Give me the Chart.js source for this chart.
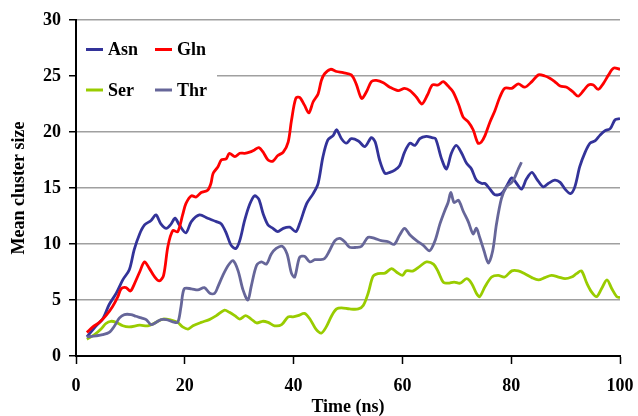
<!DOCTYPE html>
<html>
<head>
<meta charset="utf-8">
<script src="https://cdn.jsdelivr.net/npm/chart.js@4.4.1/dist/chart.umd.min.js"></script>
<style>
  html, body { margin: 0; padding: 0; background: #fff; }
  canvas { display: block; }
</style>
</head>
<body>
<canvas id="clusterChart" width="638" height="416"></canvas>
<script>
// series (time in ns, mean cluster size)
const asnTime = [2, 3.7, 4.9, 6.1, 7.4, 8.6, 9.8, 10.7, 11.7, 12.6, 13.8, 14.7, 15.6, 16.6, 17.5, 18.2, 19, 20.2, 21.2, 22.7,
  24.2, 25.8, 26.7, 27.6, 28.5, 29.4, 30.1, 31, 31.9, 32.8, 33.6, 34.4, 35.3, 36.2, 37.1, 38.1, 39.3, 40.4, 41.1, 42.4,
  43.6, 44.5, 45.4, 46.3, 47.3, 47.9, 48.8, 49.7, 50.6, 51.9, 53.1, 54.3, 55, 55.8, 56.8, 57.7, 58.6, 59.5, 60.4, 61.4,
  62.3, 63.2, 64.4, 65.4, 66.1, 67.2, 68.1, 69, 69.9, 70.9, 71.8, 72.7, 73.6, 74.6, 75.2, 76.1, 77, 78.2, 79.2, 80.1,
  81, 81.9, 82.8, 83.8, 84.7, 85.9, 86.8, 88, 89, 89.9, 90.9, 91.7, 92.6, 93.6, 94.5, 95.4, 96.3, 97.2, 98.2, 99.1, 100];
const asnSize = [1.7, 2.7, 3.3, 4.6, 5.6, 6.8, 7.7, 9.5, 10.9, 11.7, 12.1, 12.6, 11.8, 11.4, 11.8, 12.3, 11.7, 11.0, 12.0, 12.6,
  12.3, 12.0, 11.8, 11.0, 9.9, 9.6, 10.3, 12.1, 13.5, 14.3, 14.0, 12.7, 11.7, 11.4, 11.1, 11.4, 11.5, 11.1, 11.8, 13.6,
  14.5, 15.4, 17.8, 19.3, 19.7, 20.2, 19.4, 19.0, 19.4, 19.2, 18.7, 19.5, 19.1, 17.5, 16.3, 16.4, 16.6, 17.0, 18.2, 19.0,
  18.8, 19.4, 19.6, 19.5, 19.4, 17.6, 16.7, 18.1, 18.8, 18.1, 17.2, 16.7, 15.7, 15.4, 15.4, 14.9, 14.4, 14.5, 15.2, 15.9,
  15.4, 14.9, 15.8, 16.4, 15.8, 15.1, 15.4, 15.7, 15.5, 14.9, 14.5, 15.1, 16.9, 18.2, 19.0, 19.2, 19.7, 20.1, 20.3, 21.1, 21.2];

const glnTime = [2, 3.1, 4.3, 5.5, 6.7, 7.7, 8.3, 9.2, 10, 10.7, 11.7, 12.6, 13.5, 14.4, 15.3, 16.1, 16.9, 17.8, 18.7, 19.6,
  20.2, 21.2, 22.1, 23, 24.2, 24.8, 25.2, 26.1, 26.7, 27.6, 28.2, 29.2, 30.1, 31, 31.9, 32.8, 33.6, 34.4, 35.3, 36.2,
  37.1, 38.1, 39, 39.6, 40.4, 41.1, 42, 42.8, 43.6, 44.5, 45.1, 45.7, 46.8, 47.9, 49.1, 50.6, 51.5, 52.5, 53.4, 54.3,
  55.2, 56.5, 57.7, 59.2, 60.4, 61.4, 62.6, 63.6, 64.6, 65.5, 66.6, 67.5, 68.4, 69.3, 70.3, 71.2, 72.1, 73, 73.9, 74.5,
  75.2, 76.1, 77, 77.9, 78.8, 80.1, 81.3, 82.5, 83.8, 85, 86.2, 87.1, 88, 89, 90.2, 91.3, 92.3, 93.3, 94.2, 95.1,
  96, 96.9, 97.9, 98.8, 100];
const glnSize = [2.1, 2.6, 3.0, 3.6, 4.4, 5.3, 6.0, 6.1, 5.8, 6.4, 7.5, 8.4, 7.8, 7.1, 6.7, 7.2, 9.8, 11.2, 11.1, 12.6,
  13.6, 14.3, 14.2, 14.6, 14.8, 15.4, 16.3, 16.9, 17.5, 17.6, 18.1, 17.8, 18.1, 18.1, 18.2, 18.4, 18.6, 18.2, 17.5, 17.4,
  17.9, 18.2, 19.1, 21.0, 23.0, 23.1, 22.4, 21.7, 22.7, 23.4, 24.6, 25.2, 25.6, 25.4, 25.3, 25.1, 24.3, 23.0, 23.6, 24.5,
  24.6, 24.4, 24.0, 23.7, 23.9, 23.7, 23.1, 22.5, 23.3, 24.2, 24.2, 24.5, 24.1, 23.6, 22.5, 21.3, 20.9, 20.2, 19.0, 19.1,
  19.7, 20.9, 21.9, 23.1, 23.9, 23.9, 24.3, 24.0, 24.5, 25.1, 25.0, 24.8, 24.5, 24.1, 24.0, 23.6, 23.2, 23.7, 24.2, 24.2,
  23.8, 24.3, 25.1, 25.7, 25.6];

const serTime = [2, 3.4, 4.6, 5.5, 6.4, 7.4, 8.6, 9.8, 11.7, 13.2, 14.7, 16, 17.5, 18.7, 19.6, 20.6, 21.5, 23, 24.5, 25.8,
  27.3, 28.2, 29.2, 30.1, 31.2, 32.2, 33.2, 34.3, 35.3, 36.5, 37.8, 39, 39.9, 40.8, 42, 43, 44.1, 45.1, 46, 47,
  47.9, 48.8, 50.3, 51.9, 52.8, 53.7, 54.6, 55.5, 56.8, 58, 58.9, 60, 60.7, 62, 63.2, 64.4, 65.7, 66.6, 67.5, 68.4,
  69.5, 70.6, 71.8, 72.7, 73.6, 74.2, 75.2, 76.4, 77.6, 78.8, 80.1, 81.3, 82.5, 83.8, 85, 86.2, 87.4, 88.7, 89.9, 91.1,
  92, 92.9, 93.9, 94.8, 95.7, 96.6, 97.6, 98.5, 99.4, 100];
const serSize = [1.5, 1.9, 2.4, 2.9, 3.1, 3.0, 2.7, 2.6, 2.75, 2.7, 3.0, 3.3, 3.2, 3.0, 2.6, 2.4, 2.7, 3.0, 3.25, 3.6,
  4.1, 3.9, 3.6, 3.3, 3.6, 3.3, 2.95, 3.1, 3.0, 2.7, 2.8, 3.5, 3.5, 3.6, 3.8, 3.3, 2.4, 2.05, 2.6, 3.6,
  4.2, 4.3, 4.2, 4.2, 4.5, 5.6, 7.1, 7.35, 7.4, 7.8, 7.5, 7.2, 7.6, 7.6, 8.0, 8.4, 8.2, 7.5, 6.6, 6.5,
  6.6, 6.5, 6.9, 6.5, 5.6, 5.3, 6.2, 7.05, 7.2, 7.05, 7.6, 7.6, 7.35, 7.0, 6.8, 7.0, 7.2, 7.05, 6.9, 7.05,
  7.35, 7.6, 6.5, 5.7, 5.3, 6.0, 6.8, 6.0, 5.3, 5.2];

const thrTime = [2, 3.7, 4.9, 6.1, 7.1, 8, 8.9, 10.1, 11, 12, 12.9, 13.8, 14.7, 15.6, 16.6, 17.8, 18.7, 19.3, 19.9, 21.2,
  22.4, 23.6, 24.6, 25.5, 26.1, 27, 28, 28.9, 29.8, 30.7, 31.6, 32.2, 33.2, 34.1, 35, 35.9, 36.8, 37.9, 38.8, 39.6,
  40.2, 41.1, 42, 43, 43.9, 44.8, 45.7, 46.6, 47.6, 48.5, 49.4, 50.3, 51.5, 52.5, 53.7, 54.9, 56.1, 57.4, 58.5, 59.5,
  60.4, 61.4, 62.6, 63.8, 65, 66, 66.9, 67.8, 68.4, 68.9, 69.5, 70.3, 71.2, 72.1, 73, 73.6, 74.2, 75, 75.8, 76.6,
  77.3, 78.2, 79.1, 80.1, 80.7, 81.3, 81.9];
const thrSize = [1.7, 1.8, 1.9, 2.1, 2.7, 3.4, 3.7, 3.7, 3.55, 3.4, 3.25, 2.8, 3.0, 3.25, 3.25, 3.05, 3.0, 4.4, 6.0, 6.0,
  5.9, 6.1, 5.6, 5.6, 6.2, 7.2, 8.1, 8.5, 7.6, 5.9, 5.0, 6.2, 8.1, 8.4, 8.2, 9.1, 9.6, 9.8, 9.1, 7.4,
  7.05, 8.8, 8.9, 8.4, 8.6, 8.6, 8.7, 9.4, 10.3, 10.5, 10.2, 9.7, 9.7, 9.8, 10.6, 10.5, 10.3, 10.2, 9.97, 10.8,
  11.4, 10.8, 10.3, 9.9, 9.4, 10.3, 11.8, 13.0, 13.7, 14.6, 13.7, 13.9, 12.9, 12.0, 10.9, 11.4, 10.6, 9.4, 8.3, 9.4,
  11.8, 14.05, 15.1, 15.5, 16.0, 16.7, 17.3];

const seriesNames = ["Asn", "Gln", "Ser", "Thr"];
const seriesColors = ["#333399", "#ff0000", "#99cc00", "#666699"];
const xTicks = [0, 20, 40, 60, 80, 100];
const yTicks = [0, 5, 10, 15, 20, 25, 30];

const FONT = '"Liberation Serif", "Times New Roman", serif';

function pts(t, v) {
  return t.map((x, i) => ({ x: x, y: v[i] }));
}

const allData = [pts(asnTime, asnSize), pts(glnTime, glnSize), pts(serTime, serSize), pts(thrTime, thrSize)];

// legend drawn inside the plot, two rows of two, on a white box
const boxLegend = {
  id: "boxLegend",
  beforeDatasetsDraw(chart) {
    const c = chart.ctx;
    const a = chart.chartArea;
    c.save();
    c.fillStyle = "#fff";
    c.fillRect(a.left + 1, 28, 140, 84);
    c.font = "bold 18px " + FONT;
    c.textBaseline = "middle";
    c.textAlign = "left";
    const cols = [86, 155];
    const rows = [49.5, 90];
    seriesNames.forEach((name, i) => {
      const x = cols[i % 2];
      const y = rows[Math.floor(i / 2)];
      c.strokeStyle = seriesColors[i];
      c.lineWidth = 3;
      c.beginPath();
      c.moveTo(x, y);
      c.lineTo(x + 17, y);
      c.stroke();
      c.fillStyle = "#000";
      c.fillText(name, x + 22, y + 1);
    });
    c.restore();
  }
};

const ctx = document.getElementById("clusterChart").getContext("2d");
const chart = new Chart(ctx, {
  type: "line",
  data: {
    datasets: seriesNames.map((name, i) => ({
      label: name,
      data: allData[i],
      borderColor: seriesColors[i],
      backgroundColor: seriesColors[i],
      borderWidth: 2.8,
      pointRadius: 0,
      tension: 0.3,
      fill: false,
      order: i === 3 ? 0 : 4 - i
    }))
  },
  options: {
    responsive: false,
    animation: false,
    layout: { padding: { top: 20, right: 18, left: 0, bottom: 0 } },
    plugins: {
      legend: { display: false },
      tooltip: { enabled: false }
    },
    scales: {
      x: {
        type: "linear",
        min: 0,
        max: 100,
        afterBuildTicks: (s) => { s.ticks = xTicks.map(v => ({ value: v })); },
        afterFit: (s) => { s.height = 60; s.paddingLeft = 0; s.paddingRight = 0; },
        ticks: {
          color: "#000",
          padding: 12,
          font: { family: FONT, size: 18, weight: "bold" }
        },
        grid: { drawOnChartArea: false, tickLength: 8, tickColor: "#000", tickWidth: 1.5 },
        border: { color: "#000", width: 2 },
        title: {
          display: true,
          text: "Time (ns)",
          color: "#000",
          padding: { top: 0, bottom: -2 },
          font: { family: FONT, size: 18, weight: "bold" }
        }
      },
      y: {
        min: 0,
        max: 30,
        afterBuildTicks: (s) => { s.ticks = yTicks.map(v => ({ value: v })); },
        afterFit: (s) => { s.width = 76; s.paddingTop = 0; s.paddingBottom = 0; },
        ticks: {
          color: "#000",
          padding: 8,
          font: { family: FONT, size: 18, weight: "bold" }
        },
        grid: { color: "#a0a0a0", lineWidth: 1.5, tickLength: 7, tickColor: "#000", tickWidth: 1.5 },
        border: { color: "#000", width: 2 },
        title: {
          display: true,
          text: "Mean cluster size",
          color: "#000",
          padding: { top: 9, bottom: 0 },
          font: { family: FONT, size: 18, weight: "bold" }
        }
      }
    }
  },
  plugins: [boxLegend]
});
</script>
</body>
</html>
